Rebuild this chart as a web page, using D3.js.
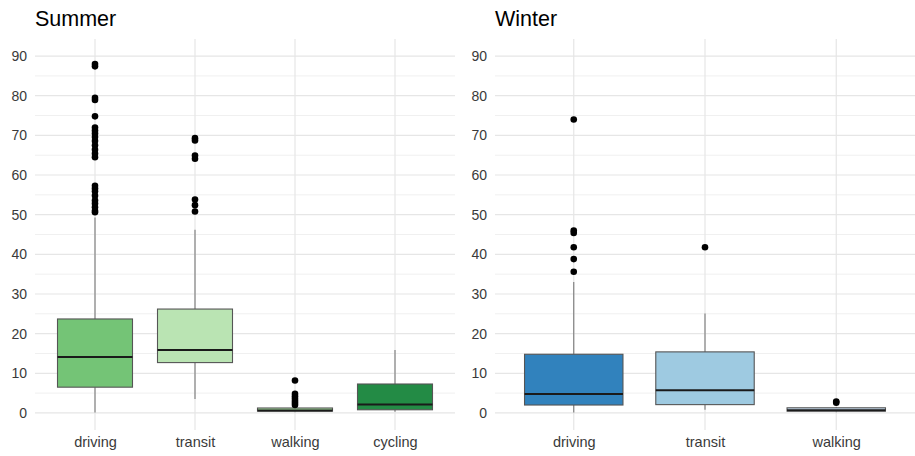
<!DOCTYPE html>
<html>
<head>
<meta charset="utf-8">
<script src="https://cdn.jsdelivr.net/npm/d3@7"></script>
<style>
  html, body { margin: 0; padding: 0; background: #fff; }
  svg { display: block; font-family: "Liberation Sans", Arial, sans-serif; }
</style>
</head>
<body>
<svg id="chart" width="915" height="456"></svg>
<script>
// Commute time by mode, summer vs winter (box summaries + outliers)
const summerModes = ["driving", "transit", "walking", "cycling"];
const summerColors = ["#74c476", "#bae4b3", "#a1d99b", "#238b45"];
const summerQ1 = [6.5, 12.7, 0.45, 0.8];
const summerMedian = [14.1, 15.9, 0.6, 2.1];
const summerQ3 = [23.7, 26.2, 1.25, 7.3];
const summerLow = [0.1, 3.5, 0.2, 0.3];
const summerHigh = [49.3, 46.2, 1.9, 15.9];
const summerOutliers = [
  [88.0, 87.4, 79.5, 78.9, 74.8, 72.0, 71.2, 70.5, 69.6, 68.6, 67.5, 66.4, 65.4, 64.5,
   57.3, 56.6, 55.9, 54.8, 53.6, 52.8, 51.9, 51.0, 50.6],
  [69.3, 68.7, 64.9, 64.1, 53.8, 52.4, 50.8],
  [8.2, 4.8, 4.2, 3.6, 3.0, 2.5, 2.0],
  []
];

const winterModes = ["driving", "transit", "walking"];
const winterColors = ["#3182bd", "#9ecae1", "#c6dbef"];
const winterQ1 = [2.0, 2.1, 0.45];
const winterMedian = [4.8, 5.7, 0.7];
const winterQ3 = [14.8, 15.4, 1.3];
const winterLow = [0.1, 0.8, 0.2];
const winterHigh = [33.0, 25.1, 1.5];
const winterOutliers = [
  [74.0, 46.0, 45.4, 41.8, 38.8, 35.6],
  [41.8],
  [2.9, 2.6]
];

const yMajor = [0, 10, 20, 30, 40, 50, 60, 70, 80, 90];
const yMinor = [5, 15, 25, 35, 45, 55, 65, 75, 85];

const svg = d3.select("#chart");
const plotTop = 39, plotBottom = 430;
const y = d3.scaleLinear().domain([-4.3, 94.3]).range([plotBottom, plotTop]);

function panel(opts) {
  const { title, left, right, modes, colors, q1, med, q3, lo, hi, outliers } = opts;
  const g = svg.append("g");
  const x = d3.scalePoint().domain(modes).range([left, right]).padding(0.6);
  const boxW = x.step() * 0.75;

  // grid
  g.selectAll("line.minor").data(yMinor).join("line")
    .attr("x1", left).attr("x2", right)
    .attr("y1", d => y(d)).attr("y2", d => y(d))
    .attr("stroke", "#f0f0f0").attr("stroke-width", 1);
  g.selectAll("line.major").data(yMajor).join("line")
    .attr("x1", left).attr("x2", right)
    .attr("y1", d => y(d)).attr("y2", d => y(d))
    .attr("stroke", "#e6e6e6").attr("stroke-width", 1.2);
  g.selectAll("line.vgrid").data(modes).join("line")
    .attr("x1", d => x(d)).attr("x2", d => x(d))
    .attr("y1", plotTop).attr("y2", plotBottom)
    .attr("stroke", "#e6e6e6").attr("stroke-width", 1.2);

  // y axis labels
  const ya = g.append("g").attr("transform", `translate(${left},0)`)
    .call(d3.axisLeft(y).tickValues(yMajor).tickSize(0).tickPadding(8));
  ya.select(".domain").remove();
  ya.selectAll("text").attr("font-size", 14).attr("fill", "#3a3a3a")
    .attr("font-family", "Liberation Sans, Arial, sans-serif");

  // x axis labels
  const xa = g.append("g").attr("transform", `translate(0,${plotBottom})`)
    .call(d3.axisBottom(x).tickSize(0).tickPadding(7));
  xa.select(".domain").remove();
  xa.selectAll("text").attr("font-size", 14.5).attr("fill", "#3a3a3a")
    .attr("font-family", "Liberation Sans, Arial, sans-serif");

  // title
  g.append("text").attr("x", left).attr("y", 26)
    .attr("font-size", 21.5).attr("fill", "#000").text(title);

  const items = modes.map((m, i) => ({ m, i }));

  // whiskers
  g.selectAll("line.whisk-up").data(items).join("line")
    .attr("x1", d => x(d.m)).attr("x2", d => x(d.m))
    .attr("y1", d => y(q3[d.i])).attr("y2", d => y(hi[d.i]))
    .attr("stroke", "#7a7a7a").attr("stroke-width", 1.1);
  g.selectAll("line.whisk-lo").data(items).join("line")
    .attr("x1", d => x(d.m)).attr("x2", d => x(d.m))
    .attr("y1", d => y(q1[d.i])).attr("y2", d => y(lo[d.i]))
    .attr("stroke", "#7a7a7a").attr("stroke-width", 1.1);

  // boxes
  g.selectAll("rect.box").data(items).join("rect")
    .attr("x", d => x(d.m) - boxW / 2).attr("width", boxW)
    .attr("y", d => y(q3[d.i]))
    .attr("height", d => y(q1[d.i]) - y(q3[d.i]))
    .attr("fill", d => colors[d.i])
    .attr("stroke", "#555").attr("stroke-width", 1.1);

  // medians
  g.selectAll("line.median").data(items).join("line")
    .attr("x1", d => x(d.m) - boxW / 2).attr("x2", d => x(d.m) + boxW / 2)
    .attr("y1", d => y(med[d.i])).attr("y2", d => y(med[d.i]))
    .attr("stroke", "#1a1a1a").attr("stroke-width", 2);

  // outliers
  const pts = items.flatMap(d => outliers[d.i].map(v => ({ m: d.m, v })));
  g.selectAll("circle.out").data(pts).join("circle")
    .attr("cx", d => x(d.m)).attr("cy", d => y(d.v))
    .attr("r", 3.3).attr("fill", "#000");
}

panel({ title: "Summer", left: 35, right: 455, modes: summerModes, colors: summerColors,
  q1: summerQ1, med: summerMedian, q3: summerQ3, lo: summerLow, hi: summerHigh, outliers: summerOutliers });
panel({ title: "Winter", left: 495, right: 915, modes: winterModes, colors: winterColors,
  q1: winterQ1, med: winterMedian, q3: winterQ3, lo: winterLow, hi: winterHigh, outliers: winterOutliers });
</script>
</body>
</html>
